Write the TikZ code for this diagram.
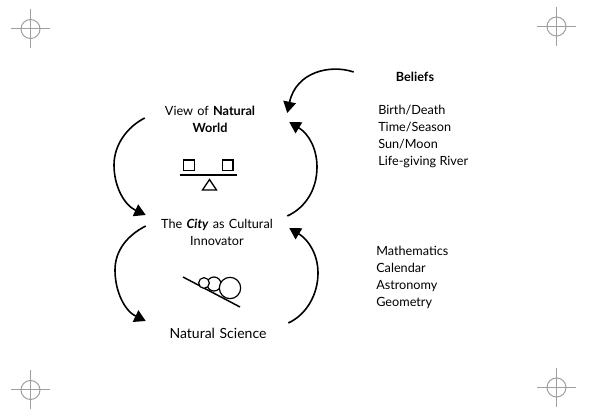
\documentclass[tikz,border=0pt]{standalone}
\usepackage{fontspec}
\setmainfont{Lato}
\usetikzlibrary{arrows.meta}

\begin{document}
\begin{tikzpicture}[
    x=0.75pt, y=-0.75pt,
    font=\fontsize{9.5}{12.75}\selectfont,
    every node/.style={inner sep=0pt},
    heading/.style={text width=90pt, align=center},
    listing/.style={anchor=west, align=left},
    pan/.style={rectangle, draw, line width=1pt, minimum size=8pt},
    ball/.style={circle, draw, fill=white, line width=0.9pt},
    beam/.style={line width=1.1pt},
    arr/.style={-{Triangle[length=8.5pt, width=9.5pt]}, line width=1.2pt},
    crop/.style={gray!75, line width=0.75pt}
  ]
  \useasboundingbox (0,0) rectangle (590,420);

  % Crop marks
  \foreach \cx/\cy in {30.5/29, 556.5/26.5, 30.5/390, 556.5/387.5} {
    \draw[crop] (\cx,\cy) circle (9.5);
    \draw[crop] (\cx-19.5,\cy) -- (\cx+19.5,\cy);
    \draw[crop] (\cx,\cy-19.5) -- (\cx,\cy+19.5);
  }

  \node[heading] (world)   at (210,119.5) {View of \textbf{Natural}\\\textbf{World}};
  \node[heading] (city)    at (217,232.5) {The \textbf{\textit{City}} as Cultural\\Innovator};
  \node[heading, font=\fontsize{10.5}{12.75}\selectfont] (science) at (218,333) {Natural Science};
  \node[font=\fontsize{9.5}{12.75}\selectfont\bfseries] (beliefs) at (415,77) {Beliefs};

  \node[listing] (beliefslist) at (378,136.5) {Birth/Death\\Time/Season\\Sun/Moon\\Life-giving River};
  \node[listing] (mathlist)    at (376,277.5) {Mathematics\\Calendar\\Astronomy\\Geometry};

  % Balance
  \node[pan] (panleft)  at (189,165.5) {};
  \node[pan] (panright) at (227.5,165.5) {};
  \coordinate (beamleft)  at (180,175);
  \coordinate (beamright) at (237,175);
  \draw[beam] (beamleft) -- (beamright);
  \draw[line width=1pt] (209.5,179.5) -- (202.5,190) -- (216.5,190) -- cycle;

  % Balls on the slope
  \coordinate (slopetop) at (183,277);
  \coordinate (slopeend) at (240,307);
  \draw[beam] (slopetop) -- (slopeend);
  \node[ball, minimum size=10.5pt] (ballmid)   at (214,284) {};
  \node[ball, minimum size=8pt]    (ballsmall) at (204,283) {};
  \node[ball, minimum size=16pt]   (ballbig)   at (230,288) {};

  % Left loops
  \draw[arr] ([shift={(-5,-1.5)}]world.west) .. controls (127,127) and (114,145) .. (114,165)
    .. controls (114,186) and (124,205) .. ([shift={(-11,-17.5)}]city.west);
  \draw[arr] ([shift={(-11,-6.5)}]city.west) .. controls (128,235) and (115,250) .. (115,270)
    .. controls (115,292) and (125,311) .. ([shift={(-12,-12)}]science.west);

  % Right loops
  \draw[arr] ([shift={(10,-10)}]science.east) .. controls (306,315) and (318,295) .. (318,273)
    .. controls (318,255) and (309,240) .. ([shift={(12,-4.5)}]city.east);
  \draw[arr] ([shift={(10,-16.5)}]city.east) .. controls (305,208) and (317,190) .. (317,167)
    .. controls (317,149) and (309,134) .. ([shift={(19,2.5)}]world.east);

  % Beliefs feed
  \draw[arr] ([shift={(-42,-5)}]beliefs.west) .. controls (330,64) and (296,72)
    .. ([shift={(17,-6.5)}]world.east);

\end{tikzpicture}
\end{document}
